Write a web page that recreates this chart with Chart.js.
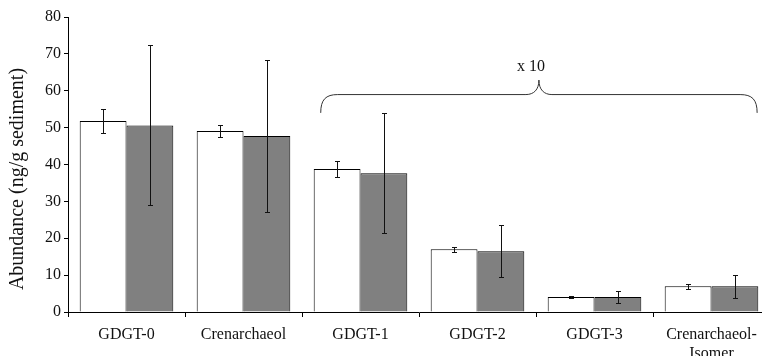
<!DOCTYPE html>
<html><head><meta charset="utf-8">
<script src="https://cdn.jsdelivr.net/npm/chart.js@4/dist/chart.umd.min.js"></script>
<style>html,body{margin:0;padding:0;overflow:hidden;background:#fff;width:762px;height:356px}</style>
</head><body>
<canvas id="c" width="772" height="356" style="width:772px;height:356px;display:block"></canvas>
<script>
const categories = [["GDGT-0"], ["Crenarchaeol"], ["GDGT-1"], ["GDGT-2"], ["GDGT-3"], ["Crenarchaeol-", "Isomer"]];
const seriesA = [51.8, 49.1, 38.8, 17.0, 4.1, 7.0];
const errorsA = [3.3, 1.7, 2.2, 0.7, 0.2, 0.7];
const seriesB = [50.6, 47.7, 37.6, 16.5, 4.1, 7.0];
const errorsB = [21.7, 20.6, 16.3, 7.0, 1.7, 3.1];
const yTicks = [0, 10, 20, 30, 40, 50, 60, 70, 80];
const yTitle = "Abundance (ng/g sediment)";
const braceLabel = "x 10";
const braceFrom = 2, braceTo = 5;

const FONT = "'Liberation Serif', 'DejaVu Serif', serif";

const errorPlugin = {
  id: 'errs',
  afterDatasetsDraw(chart) {
    const ctx = chart.ctx, ys = chart.scales.y, xs = chart.scales.x;
    const errs = [errorsA, errorsB];
    ctx.save();
    ctx.strokeStyle = '#111';
    ctx.lineWidth = 1;
    chart.data.datasets.forEach((ds, di) => {
      const meta = chart.getDatasetMeta(di);
      meta.data.forEach((el, i) => {
        const v = ds.data[i], e = errs[di][i];
        const x = Math.round(el.x) + 0.5;
        const t = Math.round(ys.getPixelForValue(v + e)) + 0.5;
        const b = Math.round(ys.getPixelForValue(v - e)) + 0.5;
        ctx.beginPath();
        ctx.moveTo(x, t); ctx.lineTo(x, b);
        ctx.moveTo(x - 2.5, t); ctx.lineTo(x + 2.5, t);
        ctx.moveTo(x - 2.5, b); ctx.lineTo(x + 2.5, b);
        ctx.stroke();
      });
    });
    // brace
    const w = xs.getPixelForValue(1) - xs.getPixelForValue(0);
    const xL = xs.getPixelForValue(braceFrom) - 0.34 * w;
    const xR = xs.getPixelForValue(braceTo) + 0.39 * w;
    const xm = (xL + xR) / 2;
    const yEnd = ys.getPixelForValue(54), yMid = ys.getPixelForValue(59.1) + 0.5, yTip = ys.getPixelForValue(62.9);
    ctx.strokeStyle = '#333';
    ctx.beginPath();
    ctx.moveTo(xL, yEnd);
    ctx.bezierCurveTo(xL, yMid + 5, xL + 5, yMid, xL + 17, yMid);
    ctx.lineTo(xm - 13, yMid);
    ctx.bezierCurveTo(xm - 5, yMid, xm, yMid - 5, xm, yTip);
    ctx.bezierCurveTo(xm, yMid - 5, xm + 5, yMid, xm + 13, yMid);
    ctx.lineTo(xR - 17, yMid);
    ctx.bezierCurveTo(xR - 5, yMid, xR, yMid + 5, xR, yEnd);
    ctx.stroke();
    ctx.fillStyle = '#111';
    ctx.font = "16px " + FONT;
    ctx.textAlign = 'center';
    ctx.textBaseline = 'middle';
    ctx.fillText(braceLabel, xm - 8, ys.getPixelForValue(67.0) + 2);
    // y title
    ctx.translate(18, 179);
    ctx.rotate(-Math.PI / 2);
    ctx.font = "20px " + FONT;
    ctx.fillText(yTitle, 0, 0);
    ctx.restore();
  }
};

new Chart(document.getElementById('c'), {
  type: 'bar',
  data: {
    labels: categories,
    datasets: [
      { data: seriesA, backgroundColor: '#ffffff', borderColor: '#000', borderWidth: 1, categoryPercentage: 0.8, barPercentage: 1.0 },
      { data: seriesB, backgroundColor: '#808080', borderColor: '#000', borderWidth: 1, categoryPercentage: 0.8, barPercentage: 1.0 }
    ]
  },
  options: {
    responsive: false,
    animation: false,
    layout: { padding: { top: 17, right: 2, left: 0, bottom: 0 } },
    plugins: { legend: { display: false }, tooltip: { enabled: false } },
    scales: {
      x: {
        offset: true,
        grid: { offset: true, drawOnChartArea: false, drawTicks: true, tickLength: 5, color: '#000' },
        border: { display: true, color: '#000', width: 1 },
        ticks: { color: '#111', font: { family: FONT, size: 16, lineHeight: 1.2 }, padding: 8, maxRotation: 0, autoSkip: false },
        afterFit(s) { s.height = 44; }
      },
      y: {
        min: 0, max: 80,
        afterBuildTicks(s) { s.ticks = yTicks.map(v => ({ value: v })); },
        grid: { drawOnChartArea: false, drawTicks: true, tickLength: 4, color: '#000' },
        border: { display: true, color: '#000', width: 1 },
        ticks: { color: '#111', font: { family: FONT, size: 16 }, padding: 3 },
        afterFit(s) { s.width = 68; }
      }
    }
  },
  plugins: [errorPlugin]
});
</script>
</body></html>
